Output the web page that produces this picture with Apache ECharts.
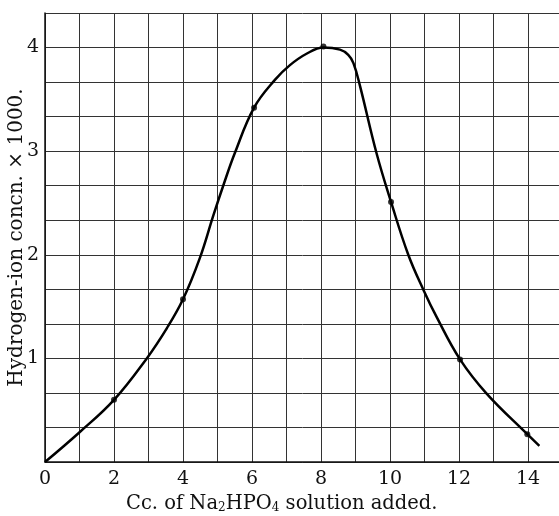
<!DOCTYPE html>
<html>
<head>
<meta charset="utf-8">
<script src="https://cdn.jsdelivr.net/npm/echarts@6/dist/echarts.min.js"></script>
<style>html,body{margin:0;padding:0;background:#fff;}#c{width:559px;height:516px;}</style>
</head>
<body>
<div id="c"></div>
<script>
// Traced curve (cc added, H-ion concn x1000)
const curveX = [0, 1.01, 2, 2.95, 3.53, 4, 4.49, 4.88, 5.2, 5.5, 6.06, 6.67, 7.10, 7.58, 8.07, 8.55, 8.79, 8.94, 9.13, 9.61, 10.03, 10.53, 10.97, 11.35, 12.03, 12.8, 13.98, 14.33];
const curveY = [0, 0.29, 0.6, 1.0, 1.29, 1.57, 1.97, 2.38, 2.7, 2.98, 3.42, 3.69, 3.83, 3.94, 4.0, 3.98, 3.93, 3.85, 3.63, 2.98, 2.51, 2.0, 1.66, 1.40, 0.99, 0.66, 0.268, 0.155];
// Measured points (dots)
const pointX = [2, 4, 6.06, 8.07, 10.03, 12.03, 13.98];
const pointY = [0.6, 1.57, 3.42, 4.01, 2.51, 0.99, 0.268];
const xTickLabels = [0, 2, 4, 6, 8, 10, 12, 14];
const yTickLabels = [1, 2, 3, 4];

const serif = '"DejaVu Serif", "Liberation Serif", serif';
const chart = echarts.init(document.getElementById('c'), null, {renderer: 'canvas'});
const near = (v, arr) => arr.find(a => Math.abs(a - v) < 1e-6);
chart.setOption({
  backgroundColor: '#fff',
  animation: false,
  grid: {left: 45, top: 13, right: -3.5, bottom: 54, containLabel: false, outerBoundsMode: 'none'},
  xAxis: {
    type: 'value', min: 0, max: 15, interval: 1,
    name: 'Cc. of Na{s|2}HPO{s|4} solution added.',
    nameLocation: 'middle', nameGap: 31, nameMoveOverlap: false,
    nameTextStyle: {fontFamily: serif, fontSize: 19.5, color: '#111', padding: [0, 44, 0, 0],
      rich: {s: {fontFamily: serif, fontSize: 12, color: '#111', verticalAlign: 'bottom', padding: [9, 0, 0, 0]}}},
    axisLine: {show: true, lineStyle: {color: '#111', width: 1.5}},
    axisTick: {show: false},
    axisLabel: {margin: 8, fontFamily: serif, fontSize: 19, color: '#111',
      formatter: v => { const t = near(v, xTickLabels); return t === undefined ? '' : String(t); }},
    splitLine: {show: true, lineStyle: {color: '#333', width: 1}}
  },
  yAxis: {
    type: 'value', min: 0, max: 13/3, interval: 1/3,
    name: 'Hydrogen-ion concn. × 1000.',
    nameLocation: 'middle', nameGap: 18, nameMoveOverlap: false,
    nameTextStyle: {fontFamily: serif, fontSize: 20, color: '#111'},
    axisLine: {show: true, lineStyle: {color: '#111', width: 1.5}},
    axisTick: {show: false},
    axisLabel: {margin: 6, fontFamily: serif, fontSize: 19, color: '#111',
      formatter: v => { const t = near(v, yTickLabels); return t === undefined ? '' : String(t); }},
    splitLine: {show: true, lineStyle: {color: '#333', width: 1}}
  },
  series: [
    {
      type: 'line', smooth: 0.4, showSymbol: false, symbol: 'none',
      data: curveX.map((x, i) => [x, curveY[i]]),
      lineStyle: {color: '#000', width: 2.5}
    },
    {
      type: 'scatter', symbol: 'circle', symbolSize: 6,
      data: pointX.map((x, i) => [x, pointY[i]]),
      itemStyle: {color: '#000'}
    }
  ]
});
</script>
</body>
</html>
